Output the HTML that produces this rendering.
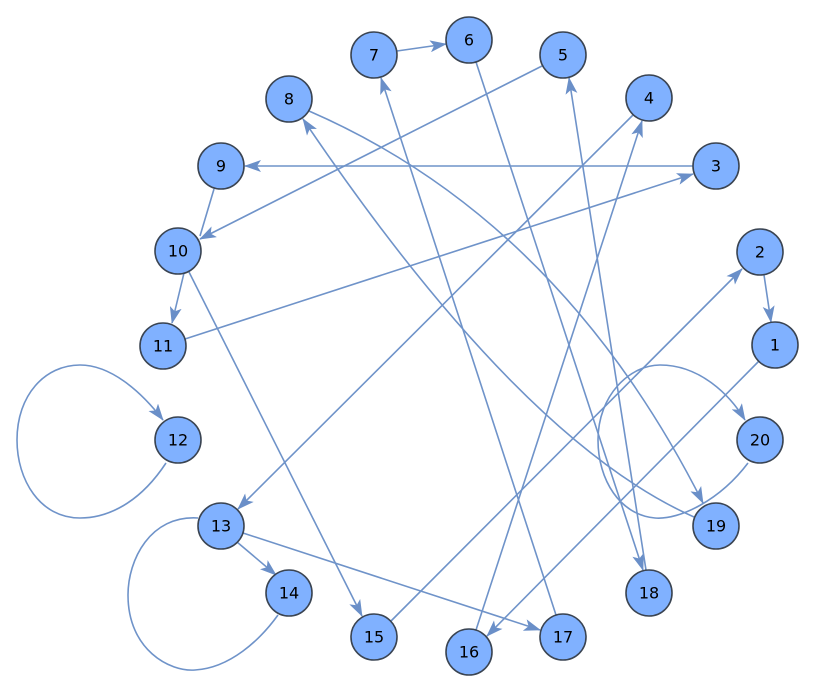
<!DOCTYPE html>
<html><head><meta charset="utf-8"><style>
html,body{margin:0;padding:0;background:#fff;}
svg{display:block}
text{font-family:"DejaVu Sans","Liberation Sans",sans-serif;font-size:16px;fill:#000;text-anchor:middle;dominant-baseline:central}
</style></head><body>
<svg width="818" height="694" viewBox="0 0 818 694">
<defs>
<marker id="a" markerWidth="17" markerHeight="12" refX="16" refY="6" orient="auto" markerUnits="userSpaceOnUse">
<path d="M0,0 L17,6 L0,12 L4,6 Z" fill="#6a8fc8"/>
</marker>
</defs>
<g fill="none" stroke="#6f93c9" stroke-width="1.6">
<line x1="397" y1="51" x2="446" y2="44" marker-end="url(#a)"/>
<line x1="542" y1="66" x2="200" y2="239" marker-end="url(#a)"/>
<line x1="693" y1="166" x2="245" y2="166" marker-end="url(#a)"/>
<line x1="185" y1="339" x2="693" y2="174" marker-end="url(#a)"/>
<line x1="214" y1="189" x2="200" y2="236"/>
<line x1="184" y1="273" x2="172" y2="323" marker-end="url(#a)"/>
<line x1="633" y1="115" x2="238" y2="509" marker-end="url(#a)"/>
<line x1="764" y1="275" x2="771" y2="322" marker-end="url(#a)"/>
<path d="M309,111 Q560,220 703,503" marker-end="url(#a)"/>
<path d="M694,517 Q520,440 303,119" marker-end="url(#a)"/>
<line x1="476" y1="62" x2="643" y2="570" marker-end="url(#a)"/>
<line x1="646" y1="570" x2="569" y2="78" marker-end="url(#a)"/>
<line x1="476" y1="630" x2="642" y2="121" marker-end="url(#a)"/>
<line x1="556" y1="615" x2="381" y2="78" marker-end="url(#a)"/>
<line x1="391" y1="621" x2="742" y2="269" marker-end="url(#a)"/>
<line x1="759" y1="361" x2="487" y2="636" marker-end="url(#a)"/>
<line x1="189" y1="272" x2="362" y2="616" marker-end="url(#a)"/>
<line x1="237" y1="542" x2="276" y2="575" marker-end="url(#a)"/>
<line x1="243" y1="533" x2="540" y2="630" marker-end="url(#a)"/>
<path d="M166,463 C135,510 100,518 80,518 C40,518 17,480 17,440 C17,395 45,365 80,365 C110,365 140,390 163,420" marker-end="url(#a)"/>
<path d="M198,518 C150,515 128,560 128,595 C128,650 170,672 195,670 C230,668 260,640 278,615"/>
<path d="M748,463 C720,500 680,520 655,518 C620,515 598,480 598,440 C598,395 630,365 660,365 C700,365 730,395 745,420" marker-end="url(#a)"/>
</g>
<g fill="#80b1ff" stroke="#3a4452" stroke-width="1.6">
<circle cx="775" cy="345" r="23"/><circle cx="760" cy="252" r="23"/><circle cx="716" cy="166" r="23"/><circle cx="649" cy="98" r="23"/><circle cx="563" cy="55" r="23"/><circle cx="469" cy="40" r="23"/><circle cx="374" cy="55" r="23"/><circle cx="289" cy="99" r="23"/><circle cx="221" cy="166" r="23"/><circle cx="178" cy="251" r="23"/><circle cx="163" cy="346" r="23"/><circle cx="178" cy="440" r="23"/><circle cx="221" cy="526" r="23"/><circle cx="289" cy="593" r="23"/><circle cx="374" cy="637" r="23"/><circle cx="469" cy="652" r="23"/><circle cx="563" cy="637" r="23"/><circle cx="649" cy="593" r="23"/><circle cx="716" cy="526" r="23"/><circle cx="760" cy="440" r="23"/>
</g>
<text x="775" y="345">1</text><text x="760" y="252">2</text><text x="716" y="166">3</text><text x="649" y="98">4</text><text x="563" y="55">5</text><text x="469" y="40">6</text><text x="374" y="55">7</text><text x="289" y="99">8</text><text x="221" y="166">9</text><text x="178" y="251">10</text><text x="163" y="346">11</text><text x="178" y="440">12</text><text x="221" y="526">13</text><text x="289" y="593">14</text><text x="374" y="637">15</text><text x="469" y="652">16</text><text x="563" y="637">17</text><text x="649" y="593">18</text><text x="716" y="526">19</text><text x="760" y="440">20</text>
</svg>
</body></html>
